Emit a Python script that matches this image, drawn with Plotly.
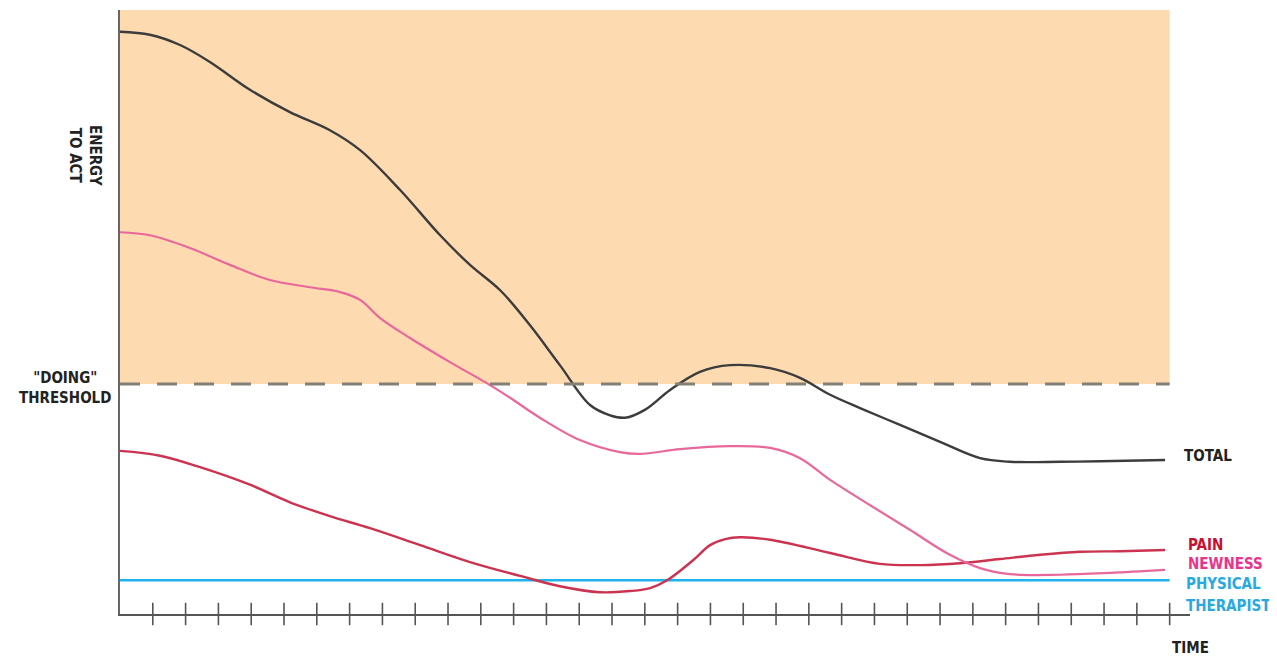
import plotly.graph_objects as go

# Time axis ticks
tick_positions = list(range(1, 33))

# Threshold and background band (energy units 0..100)
threshold = 38.1
band_end = 32.0

total_t = [0, 0.91, 1.83, 2.74, 3.96, 5.18, 6.40, 7.32, 8.54, 9.76, 10.67, 11.59, 12.5, 13.41, 14.33,
           14.94, 15.40, 16.0, 16.77, 17.68, 18.6, 19.82, 20.73, 21.65, 22.56, 23.78, 25.0, 26.22,
           27.13, 28.66, 29.88, 31.86]
total_e = [96.4, 95.9, 94.2, 91.4, 86.8, 83.1, 80.1, 76.8, 70.2, 62.7, 57.8, 53.6, 47.8, 41.2, 34.6,
           32.9, 32.5, 33.8, 37.1, 40.1, 41.2, 40.7, 39.1, 36.3, 34.1, 31.3, 28.5, 25.8,
           25.2, 25.2, 25.3, 25.5]

newness_t = [0, 0.91, 2.13, 3.35, 4.57, 5.79, 6.71, 7.32, 7.93, 8.84, 10.06, 11.28, 11.89, 12.80,
             14.02, 15.24, 15.85, 17.07, 18.6, 19.82, 20.73, 21.65, 22.87, 24.09, 25.30, 26.22,
             27.13, 28.66, 30.18, 31.86]
newness_e = [63.2, 62.7, 60.6, 57.8, 55.3, 54.1, 53.3, 52.0, 49.0, 45.7, 41.7, 37.9, 35.8, 32.5,
             28.8, 26.8, 26.5, 27.3, 27.8, 27.5, 25.8, 22.2, 18.0, 13.9, 9.8, 7.6,
             6.6, 6.5, 6.8, 7.3]

pain_t = [0, 1.22, 2.44, 3.96, 5.18, 6.40, 7.62, 9.15, 10.67, 12.2, 13.41, 14.63, 15.55, 16.16,
          16.68, 17.47, 17.99, 18.45, 18.9, 19.82, 21.65, 23.17, 24.39, 25.61, 26.83, 28.05, 29.27,
          30.49, 31.86]
pain_e = [27.0, 26.2, 24.3, 21.4, 18.5, 16.2, 14.2, 11.4, 8.6, 6.3, 4.6, 3.6, 3.8, 4.3,
          5.6, 8.9, 11.4, 12.4, 12.7, 12.3, 10.1, 8.3, 8.1, 8.4, 9.1, 9.8, 10.3,
          10.4, 10.6]

pt_t = [0, 32.0]
pt_e = [5.6, 5.6]

FONT = "Liberation Sans Narrow, DejaVu Sans Condensed, Arial Narrow, sans-serif"

fig = go.Figure()

fig.add_shape(type="rect", x0=0, x1=band_end, y0=threshold, y1=100, xref="x", yref="y",
              fillcolor="#fddab0", line=dict(width=0), layer="below")
fig.add_shape(type="line", x0=0, x1=band_end, y0=threshold, y1=threshold, xref="x", yref="y",
              line=dict(color="#858075", width=3, dash="20px,17px"), layer="above")

line_kw = dict(mode="lines", line_shape="spline", hoverinfo="skip", showlegend=False)
fig.add_trace(go.Scatter(x=pt_t, y=pt_e, line=dict(color="#1cb4ea", width=2.4), **line_kw))
fig.add_trace(go.Scatter(x=pain_t, y=pain_e, line=dict(color="#cc3350", width=2.4, smoothing=1), **line_kw))
fig.add_trace(go.Scatter(x=newness_t, y=newness_e, line=dict(color="#e8689c", width=2.2, smoothing=1), **line_kw))
fig.add_trace(go.Scatter(x=total_t, y=total_e, line=dict(color="#3c3c3c", width=2.4, smoothing=1), **line_kw))

# crossing tick marks on time axis
fig.add_trace(go.Scatter(x=tick_positions, y=[0] * len(tick_positions), mode="markers",
                         marker=dict(symbol="line-ns", size=16, line=dict(color="#555555", width=1.6)),
                         cliponaxis=False, hoverinfo="skip", showlegend=False))

ann = []
def lab(text, x, y, color, xanchor="left", textangle=0, xref="paper", align="left"):
    ann.append(dict(text=text, x=x, y=y, xref=xref, yref="paper", showarrow=False,
                    xanchor=xanchor, yanchor="middle", textangle=textangle, align=align,
                    font=dict(family=FONT, size=15, color=color, weight="bold")))

lab("TOTAL", 0.9925, 0.2616, "#222222")
lab("PAIN", 0.9967, 0.114, "#c8102e")
lab("NEWNESS", 0.9958, 0.0828, "#e8348a")
lab("PHYSICAL", 0.9944, 0.0497, "#2aa8e0")
lab("THERAPIST", 0.9944, 0.0132, "#2aa8e0")
lab("TIME", 1.0, -0.0563, "#222222", xanchor="center")
lab("ENERGY<br>TO ACT", -0.0327, 0.76, "#222222", xanchor="center", textangle=90, align="center")
lab("\"DOING\"<br>THRESHOLD", -0.0514, 0.374, "#222222", xanchor="center", align="center")
fig.update_layout(annotations=ann)

# page places the figure 8px from the top-left corner
fig.update_layout(
    width=1269, height=651,
    margin=dict(l=112, r=87, t=2, b=45),
    paper_bgcolor="white", plot_bgcolor="white",
    xaxis=dict(range=[0, 32.62], showgrid=False, zeroline=False, showticklabels=False,
               showline=True, linecolor="#555555", linewidth=2, ticks=""),
    yaxis=dict(range=[0, 100], showgrid=False, zeroline=False, showticklabels=False,
               showline=True, linecolor="#666666", linewidth=2, ticks=""),
)

fig.write_html("out.html")
